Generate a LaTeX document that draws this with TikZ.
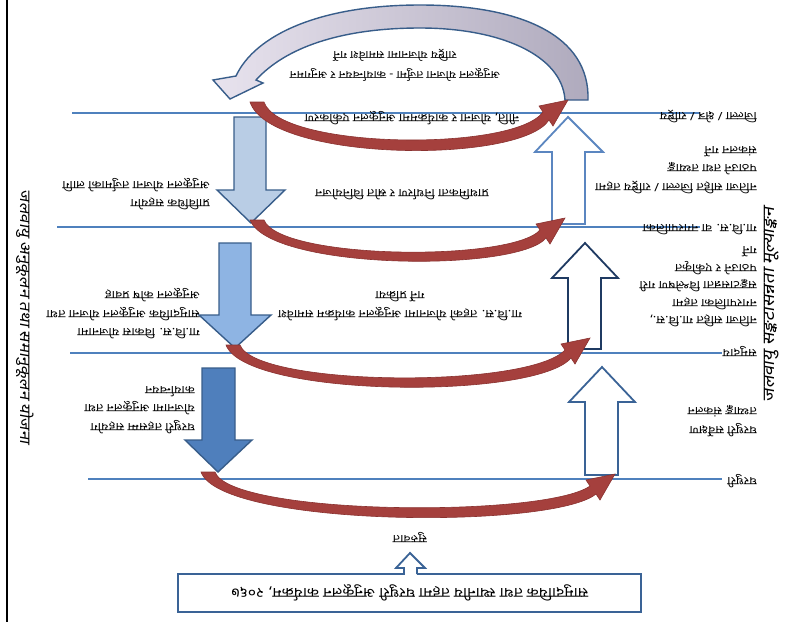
\documentclass[tikz,border=0pt]{standalone}
\usepackage{fontspec}
\newfontfamily\dev[Script=Devanagari,FakeStretch=1.12]{Noto Sans}
\newfontfamily\devsl[Script=Devanagari,FakeSlant=0.18,FakeStretch=1.12]{Noto Sans}
\usetikzlibrary{calc}
\definecolor{lineblue}{HTML}{4F81BD}
\definecolor{arcred}{HTML}{A5403D}
\definecolor{arcdark}{HTML}{8A3230}
\definecolor{navyline}{HTML}{385D8A}
\definecolor{darknavy}{HTML}{1F3A62}
\definecolor{midnavy}{HTML}{3A6396}
\definecolor{lightup}{HTML}{5B86C0}
\definecolor{lav}{HTML}{E8E3EE}
\definecolor{greyv}{HTML}{AFAABD}
\definecolor{fillA}{HTML}{B9CDE5}
\definecolor{fillB}{HTML}{8EB4E3}
\definecolor{fillC}{HTML}{4F7FBC}
\tikzset{
  fliptext/.style={rotate=180, inner sep=0pt, font=\dev\fontsize{11.5}{18.5}\selectfont},
  hline/.style={draw=lineblue, line width=1.3pt},
  redarc/.style={fill=arcred, draw=arcdark, line width=0.6pt},
  downarrow/.style={draw=navyline, line width=1.4pt, line join=miter},
  uparrow/.style={fill=white, line width=1.8pt, line join=miter},
  sidetext/.style={inner sep=0pt, font=\devsl\fontsize{15}{17}\selectfont}
}
\newcommand\myredarc[5]{%
  \pgfmathsetmacro\Wd{#3-#1}%
  \path[redarc] (#1,#2) .. controls ({#1+20},{#2+1.2*#5}) and ({#3-0.15*\Wd},{#2+1.25*#5}) .. ({#3-19},{#4+20})
    -- ({#3-15},{#4+26}) -- (#3,#4) -- ({#3-29},{#4+6}) -- ({#3-25},{#4+12})
    .. controls ({#3-0.17*\Wd},{#2+1.0*#5}) and ({#1+30},{#2+0.95*#5}) .. ({#1+14},#2) -- cycle;}
\begin{document}
\begin{tikzpicture}[x=1pt,y=-1pt]
\useasboundingbox (0,0) rectangle (785,622);
% frame line
\draw[black, line width=1.6pt] (7,0) -- (7,622);
% level lines
\draw[hline] (72,113) -- (700,113);
\draw[hline] (57,227) -- (700,227);
\draw[hline] (70,353) -- (722,353);
\draw[hline] (88,479) -- (722,479);
% big top circular arrow
\path[draw=navyline, line width=1.4pt, left color=lav, right color=greyv, line join=miter]
  (588,100) .. controls (590,35) and (520,5) .. (420,5)
  .. controls (320,5) and (255,35) .. (236,76)
  -- (213,80) -- (230,99) -- (263,83) -- (256,80)
  .. controls (285,48) and (340,28) .. (420,28)
  .. controls (500,28) and (562,55) .. (565,100) -- cycle;
% down arrows
\path[downarrow, fill=fillA] (234,117) -- (266,117) -- (266,190) -- (285,190) -- (251,223) -- (217,190) -- (234,190) -- cycle;
\path[downarrow, fill=fillB] (219,243) -- (251,243) -- (251,315) -- (271,315) -- (235,348) -- (199,315) -- (219,315) -- cycle;
\path[downarrow, fill=fillC] (202,368) -- (235,368) -- (235,440) -- (252,440) -- (218,472) -- (185,440) -- (202,440) -- cycle;
% up arrows
\path[uparrow, draw=lightup] (552,224) -- (552,152) -- (535,152) -- (568,117) -- (603,152) -- (585,152) -- (585,224) -- cycle;
\path[uparrow, draw=darknavy] (568,349) -- (568,278) -- (552,278) -- (585,243) -- (618,278) -- (601,278) -- (601,349) -- cycle;
\path[uparrow, draw=midnavy] (585,475) -- (585,402) -- (569,402) -- (602,367) -- (635,402) -- (618,402) -- (618,475) -- cycle;
% red curved arrows
\myredarc{250}{102}{568}{100}{50}
\myredarc{250}{220}{565}{218}{42}
\myredarc{226}{345}{590}{338}{44}
\myredarc{201}{472}{615}{474}{46}
% bottom box and small arrow
\node[draw=midnavy, line width=1.8pt, fill=white, minimum width=463pt, minimum height=38pt, inner sep=0pt] (srcbox) at (409.5,593) {};
\fill[white] (404.5,565) rectangle (416.5,575.5);
\draw[midnavy, line width=1.8pt, line join=miter] (404,574) -- (404,568) -- (396,568) -- (410,553) -- (425,568) -- (417,568) -- (417,574);
\node[fliptext, font=\dev\fontsize{14}{16}\selectfont] (srctext) at (410,593) {सामुदायिक तथा स्थानीय तहमा घरधुरी अनुकूलन कार्यक्रम, २०६७};
\node[fliptext] (start) at (410,538) {सुरुवात};
% level labels
\node[fliptext, anchor=west] (lab1) at (757,116) {जिल्ला / क्षेत्र / राष्ट्रिय};
\node[fliptext, anchor=west] (lab2) at (757,230) {गा.वि.स. वा नगरपालिका};
\node[fliptext, anchor=west] (lab3) at (757,352) {समुदाय};
\node[fliptext, anchor=west] (lab4) at (757,481) {घरधुरी};
% centre texts
\node[fliptext, align=center, font=\dev\fontsize{11}{20}\selectfont] (topt) at (395,65) {अनुकूलन योजना तर्जुमा - कार्यान्वयन र अनुगमन\\राष्ट्रिय योजनामा समावेश गर्ने};
\node[fliptext] (c1) at (412,118) {नीति, योजना र कार्यक्रममा अनुकूलन एकीकरण};
\node[fliptext] (c2) at (402,195) {प्राथमिकता निर्धारण र स्रोत विनियोजन};
\node[fliptext, align=center] (c3) at (400,306) {गा.वि.स. तहको योजनामा अनुकूलन कार्यक्रम समावेश\\गर्ने प्रक्रिया};
% left texts
\node[fliptext, anchor=west, align=left] (lA) at (210,194) {प्राविधिक सहयोग\\अनुकूलन योजना तर्जुमाको लागि};
\node[fliptext, anchor=west, align=left] (lB) at (200,314) {गा.वि.स. विकास योजनामा\\सामुदायिक अनुकूलन योजना तथा\\अनुकूलन कोष प्रवाह};
\node[fliptext, anchor=west, align=left] (lC) at (195,410) {घरधुरी तहसम्म सहयोग\\योजनामा अनुकूलन तथा\\कार्यान्वयन};
% right texts
\node[fliptext, anchor=west, align=left] (rD) at (757,170) {नतिजा सहित जिल्ला / राष्ट्रिय तहमा\\पठाउने तथा तथ्याङ्क\\संकलन गर्ने};
\node[fliptext, anchor=west, align=left, font=\dev\fontsize{11.5}{17.5}\selectfont] (rE) at (757,287) {नतिजा सहित गा.वि.स.,\\नगरपालिका तहमा\\सङ्कटासन्नता विश्लेषण गरी\\पठाउने र एकीकृत\\गर्ने};
\node[fliptext, anchor=west, align=left] (rF) at (757,421) {घरधुरी सर्वेक्षण\\तथ्याङ्क संकलन};
% side titles
\node[sidetext, rotate=-90] (leftttl) at (25,317) {जलवायु अनुकूलन तथा समानुकूलन योजना};
\node[sidetext, rotate=90, font=\devsl\fontsize{16.5}{18}\selectfont] (rightttl) at (772,305) {जलवायु सङ्कटासन्नता मूल्याङ्कन};
\end{tikzpicture}
\end{document}
